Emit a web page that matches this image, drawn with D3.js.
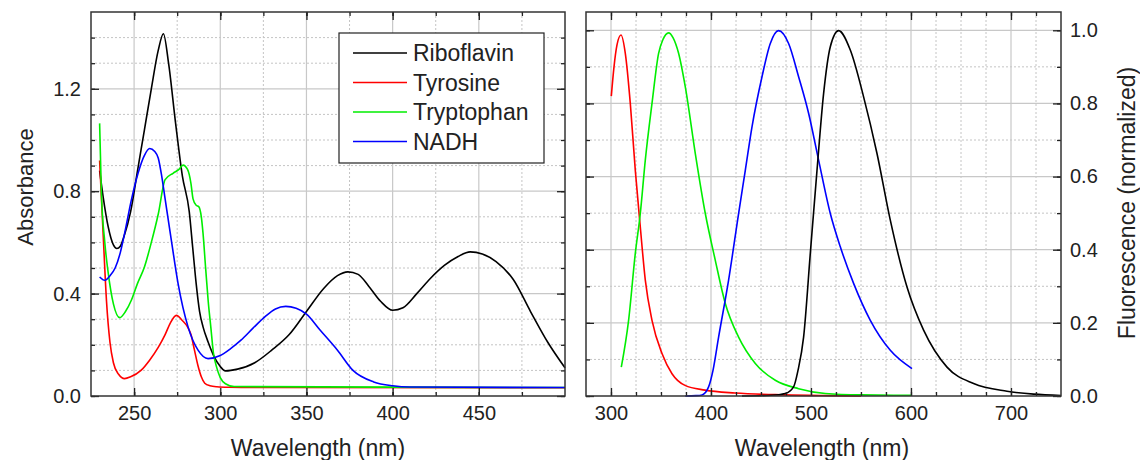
<!DOCTYPE html>
<html>
<head>
<meta charset="utf-8">
<script src="https://cdn.jsdelivr.net/npm/d3@7"></script>
<style>
  body { margin: 0; background: #fff; }
  svg { font-family: "Liberation Sans", Arial, Helvetica, sans-serif; }
  .tick text { fill: #222; }
</style>
</head>
<body>
<div id="chart"></div>
<script>
// ---- absorbance spectra (left panel) ----
const riboAbsNm  = [230, 232, 235, 238, 240, 242, 244, 248, 252, 256, 260, 264, 267, 270, 274, 278, 282, 284, 286, 288, 290, 293, 296, 300, 303, 310, 320, 330, 340, 350, 360, 368, 374, 380, 386, 393, 400, 406, 414, 422, 430, 438, 445, 452, 460, 470, 480, 490, 500];
const riboAbs    = [0.88, 0.78, 0.66, 0.59, 0.576, 0.585, 0.62, 0.72, 0.88, 1.04, 1.20, 1.35, 1.415, 1.30, 1.07, 0.86, 0.72, 0.58, 0.44, 0.33, 0.27, 0.21, 0.16, 0.115, 0.098, 0.105, 0.13, 0.18, 0.24, 0.33, 0.42, 0.47, 0.485, 0.475, 0.43, 0.37, 0.335, 0.345, 0.40, 0.46, 0.51, 0.545, 0.563, 0.555, 0.525, 0.455, 0.33, 0.21, 0.11];

const tyrAbsNm   = [230, 232, 234, 236, 238, 241, 244.5, 248, 254, 259, 264, 268, 271, 274.5, 278, 281, 283, 285, 287, 289, 291, 294, 298, 305, 320, 500];
const tyrAbs     = [0.92, 0.64, 0.37, 0.21, 0.13, 0.085, 0.068, 0.075, 0.10, 0.14, 0.19, 0.24, 0.285, 0.315, 0.295, 0.27, 0.24, 0.18, 0.12, 0.075, 0.05, 0.04, 0.036, 0.034, 0.033, 0.032];

const trpAbsNm   = [230, 231, 233, 235, 238, 241.7, 245, 248.4, 252, 256, 260, 264, 268, 272.6, 276, 278.4, 281, 283, 284.2, 286, 287.5, 289, 290, 291.5, 293, 294.5, 296, 298, 300, 303, 308, 500];
const trpAbs     = [1.065, 0.80, 0.60, 0.48, 0.36, 0.306, 0.33, 0.374, 0.44, 0.504, 0.60, 0.71, 0.845, 0.87, 0.885, 0.902, 0.885, 0.83, 0.77, 0.745, 0.74, 0.70, 0.635, 0.50, 0.37, 0.27, 0.17, 0.11, 0.072, 0.048, 0.037, 0.033];

const nadhAbsNm  = [230, 233, 236, 239, 242, 244.5, 248.4, 252.3, 256, 259, 262, 264, 266, 268, 271.6, 275.5, 281.3, 287.1, 292.9, 300, 306, 312, 319, 326, 332, 338, 344, 350, 358, 368, 377, 389, 400, 410, 500];
const nadhAbs    = [0.465, 0.452, 0.47, 0.50, 0.56, 0.635, 0.765, 0.87, 0.94, 0.967, 0.955, 0.93, 0.86, 0.77, 0.609, 0.44, 0.27, 0.179, 0.146, 0.158, 0.185, 0.218, 0.265, 0.31, 0.34, 0.35, 0.343, 0.32, 0.257, 0.179, 0.10, 0.055, 0.04, 0.035, 0.033];

// ---- fluorescence spectra (right panel), normalized ----
const tyrFlNm    = [300.3, 303, 306, 310, 314.3, 319.3, 324.3, 329.3, 334.3, 341, 351, 361, 374, 394, 424, 474, 520, 550];
const tyrFl      = [0.82, 0.90, 0.96, 0.987, 0.937, 0.80, 0.617, 0.462, 0.317, 0.207, 0.116, 0.061, 0.029, 0.016, 0.008, 0.003, 0.001, 0.0];

const trpFlNm    = [310.3, 317.6, 324.3, 329.3, 334.3, 341, 347.6, 352, 357.6, 362, 367.6, 374.3, 384.3, 394.3, 404.3, 414.3, 427.6, 444.3, 464.3, 487.6, 514.3, 550, 600];
const trpFl      = [0.079, 0.207, 0.39, 0.499, 0.645, 0.80, 0.937, 0.975, 0.993, 0.98, 0.937, 0.845, 0.663, 0.499, 0.371, 0.253, 0.161, 0.089, 0.043, 0.02, 0.007, 0.003, 0.002];

const nadhFlNm   = [374.3, 385, 391, 397.6, 402, 407.6, 417.6, 427.6, 434.3, 441, 451, 459.3, 467.6, 477.6, 487.6, 497.6, 507.6, 519.3, 529.3, 542.6, 559.3, 579.3, 601];
const nadhFl     = [0.0, 0.001, 0.003, 0.025, 0.07, 0.161, 0.317, 0.499, 0.617, 0.736, 0.873, 0.964, 0.999, 0.964, 0.873, 0.773, 0.645, 0.499, 0.408, 0.308, 0.207, 0.125, 0.075];

const riboFlNm   = [431, 460, 474.3, 482.6, 487, 492.6, 499.3, 506, 512.6, 519.3, 527.6, 539.3, 552.6, 566, 579.3, 596, 612.6, 636, 662.6, 696, 722.6, 750];
const riboFl     = [0.0, 0.002, 0.007, 0.025, 0.07, 0.161, 0.39, 0.617, 0.827, 0.955, 0.999, 0.946, 0.818, 0.663, 0.481, 0.298, 0.18, 0.079, 0.034, 0.013, 0.005, 0.001];

const seriesNames  = ["Riboflavin", "Tyrosine", "Tryptophan", "NADH"];
const seriesColors = ["#000000", "#ff0000", "#00ee00", "#0000ff"];

// ---- tick values ----
const absXMajor = [250, 300, 350, 400, 450];
const absXMinor = [250, 275, 300, 325, 350, 375, 400, 425, 450, 475];
const absYMajor = [0.0, 0.4, 0.8, 1.2];
const absYMinor = [0.1, 0.2, 0.3, 0.5, 0.6, 0.7, 0.9, 1.0, 1.1, 1.3, 1.4];

const flXMajor = [300, 400, 500, 600, 700];
const flXMinor = [325, 350, 375, 425, 450, 475, 525, 550, 575, 625, 650, 675, 725];
const flYMajor = [0.0, 0.2, 0.4, 0.6, 0.8, 1.0];
const flYMinor = [0.1, 0.3, 0.5, 0.7, 0.9];

const svgWidth = 1140;
const svgHeight = 460;

const svg = d3.select("#chart").append("svg")
  .attr("width", svgWidth)
  .attr("height", svgHeight);

const zip = (xs, ys) => xs.map((x, i) => ({ x: x, y: ys[i] }));

function drawPanel(p) {
  const x = d3.scaleLinear().domain(p.xDomain).range([p.left, p.right]);
  const y = d3.scaleLinear().domain(p.yDomain).range([p.bottom, p.top]);
  const g = svg.append("g");

  // grid: solid at major, dotted at minor
  const grid = g.append("g");
  grid.selectAll(".vminor").data(p.xMinor.filter(v => !p.xMajor.includes(v))).enter()
    .append("line")
    .attr("x1", d => x(d)).attr("x2", d => x(d))
    .attr("y1", p.top).attr("y2", p.bottom)
    .attr("stroke", "#c4c4c4").attr("stroke-dasharray", "2,2");
  grid.selectAll(".hminor").data(p.yMinor).enter()
    .append("line")
    .attr("x1", p.left).attr("x2", p.right)
    .attr("y1", d => y(d)).attr("y2", d => y(d))
    .attr("stroke", "#c4c4c4").attr("stroke-dasharray", "2,2");
  grid.selectAll(".vmajor").data(p.xMajor).enter()
    .append("line")
    .attr("x1", d => x(d)).attr("x2", d => x(d))
    .attr("y1", p.top).attr("y2", p.bottom)
    .attr("stroke", "#c8c8c8").attr("stroke-width", 1.2);
  grid.selectAll(".hmajor").data(p.yMajor.filter(v => v > p.yDomain[0])).enter()
    .append("line")
    .attr("x1", p.left).attr("x2", p.right)
    .attr("y1", d => y(d)).attr("y2", d => y(d))
    .attr("stroke", "#c8c8c8").attr("stroke-width", 1.2);

  // spectra
  const line = d3.line()
    .x(d => x(d.x))
    .y(d => y(d.y))
    .curve(d3.curveMonotoneX);

  g.selectAll(".spectrum").data(p.series).enter()
    .append("path")
    .attr("class", "spectrum")
    .attr("fill", "none")
    .attr("stroke", d => d.color)
    .attr("stroke-width", 1.6)
    .attr("d", d => line(d.points));

  // ticks, inward on all four sides
  const allX = p.xMinor.concat(p.xMajor);
  const allY = p.yMinor.concat(p.yMajor);
  const addAxis = (axis, tx, ty) => {
    const a = g.append("g").attr("transform", `translate(${tx},${ty})`).call(axis);
    a.select(".domain").remove();
    a.selectAll(".tick line").attr("stroke", "#222").attr("stroke-width", 1.3);
    a.selectAll(".tick text").attr("font-size", 20);
    return a;
  };
  addAxis(d3.axisBottom(x).tickValues(allX).tickSize(-4).tickFormat(""), 0, p.bottom);
  addAxis(d3.axisBottom(x).tickValues(p.xMajor).tickSize(-8).tickPadding(10).tickFormat(d3.format("d")), 0, p.bottom);
  addAxis(d3.axisTop(x).tickValues(allX).tickSize(-4).tickFormat(""), 0, p.top);
  addAxis(d3.axisTop(x).tickValues(p.xMajor).tickSize(-8).tickFormat(""), 0, p.top);
  addAxis(d3.axisLeft(y).tickValues(allY).tickSize(-4).tickFormat(""), p.left, 0);
  addAxis(d3.axisRight(y).tickValues(allY).tickSize(-4).tickFormat(""), p.right, 0);
  addAxis(d3.axisLeft(y).tickValues(p.yMajor).tickSize(-8).tickPadding(p.yLabelSide === "left" ? 10 : 0)
    .tickFormat(p.yLabelSide === "left" ? d3.format(".1f") : ""), p.left, 0);
  addAxis(d3.axisRight(y).tickValues(p.yMajor).tickSize(-8).tickPadding(p.yLabelSide === "right" ? 9 : 0)
    .tickFormat(p.yLabelSide === "right" ? d3.format(".1f") : ""), p.right, 0);

  // frame
  g.append("rect")
    .attr("x", p.left).attr("y", p.top)
    .attr("width", p.right - p.left).attr("height", p.bottom - p.top)
    .attr("fill", "none").attr("stroke", "#333").attr("stroke-width", 1.5);

  return { x, y, g };
}

const absPanel = drawPanel({
  left: 91, right: 565, top: 12, bottom: 396,
  xDomain: [225, 500], yDomain: [0, 1.5],
  xMajor: absXMajor, xMinor: absXMinor, yMajor: absYMajor, yMinor: absYMinor,
  yLabelSide: "left",
  series: [
    { color: seriesColors[0], points: zip(riboAbsNm, riboAbs) },
    { color: seriesColors[1], points: zip(tyrAbsNm, tyrAbs) },
    { color: seriesColors[2], points: zip(trpAbsNm, trpAbs) },
    { color: seriesColors[3], points: zip(nadhAbsNm, nadhAbs) }
  ]
});

drawPanel({
  left: 586, right: 1061, top: 12, bottom: 396,
  xDomain: [275, 750], yDomain: [0, 1.05],
  xMajor: flXMajor, xMinor: flXMinor, yMajor: flYMajor, yMinor: flYMinor,
  yLabelSide: "right",
  series: [
    { color: seriesColors[1], points: zip(tyrFlNm, tyrFl) },
    { color: seriesColors[2], points: zip(trpFlNm, trpFl) },
    { color: seriesColors[3], points: zip(nadhFlNm, nadhFl) },
    { color: seriesColors[0], points: zip(riboFlNm, riboFl) }
  ]
});

// axis titles
svg.append("text")
  .attr("x", 318).attr("y", 456)
  .attr("text-anchor", "middle")
  .attr("font-size", 23).attr("fill", "#222")
  .text("Wavelength (nm)");

svg.append("text")
  .attr("x", 822).attr("y", 456)
  .attr("text-anchor", "middle")
  .attr("font-size", 23).attr("fill", "#222")
  .text("Wavelength (nm)");

svg.append("text")
  .attr("transform", "translate(33,187) rotate(-90)")
  .attr("text-anchor", "middle")
  .attr("font-size", 22).attr("fill", "#222")
  .text("Absorbance");

svg.append("text")
  .attr("transform", "translate(1135,203) rotate(-90)")
  .attr("text-anchor", "middle")
  .attr("font-size", 23).attr("fill", "#222")
  .text("Fluorescence (normalized)");

// legend
const legend = svg.append("g").attr("transform", "translate(339,33)");
legend.append("rect")
  .attr("width", 205).attr("height", 130)
  .attr("fill", "#fff").attr("stroke", "#222").attr("stroke-width", 1.2);

const rows = legend.selectAll(".row").data(seriesNames).enter()
  .append("g")
  .attr("transform", (d, i) => `translate(0,${20 + i * 29.5})`);

rows.append("line")
  .attr("x1", 14).attr("x2", 68)
  .attr("stroke", (d, i) => seriesColors[i])
  .attr("stroke-width", 1.6);

rows.append("text")
  .attr("x", 74).attr("y", 8)
  .attr("font-size", 23).attr("fill", "#222")
  .text(d => d);
</script>
</body>
</html>
